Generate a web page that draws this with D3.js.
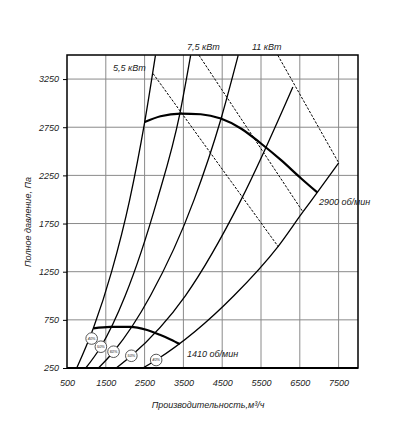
<!DOCTYPE html>
<html>
<head>
<meta charset="utf-8">
<style>
  body { margin: 0; background: #fff; }
  svg text { font-family: "Liberation Sans", Arial, sans-serif; font-style: italic; fill: #222; }
  .grid line { stroke: #8a8a8a; stroke-width: 1; }
  .axis path { display: none; }
  .axis line { stroke: #000; }
</style>
</head>
<body>
<svg id="chart" width="407" height="435"></svg>
<script src="https://cdnjs.cloudflare.com/ajax/libs/d3/7.8.5/d3.min.js"></script>
<script>
// tick values
var xTicks = [500, 1500, 2500, 3500, 4500, 5500, 6500, 7500];
var yTicks = [250, 750, 1250, 1750, 2250, 2750, 3250];

// system curves, [flow m3/h, pressure Pa]
var sys1 = [[751, 250], [1181, 665], [1650, 1250], [2114, 1993], [2503, 2805], [2780, 3497]];
var sys2 = [[984, 250], [1373, 471], [2000, 1000], [2824, 1993], [3409, 2892], [3687, 3497]];
var sys3 = [[1311, 250], [1699, 419], [2650, 1000], [3772, 1993], [4464, 2830], [4912, 3497]];
var sys4 = [[1769, 250], [2158, 377], [3550, 1000], [4982, 1993], [6321, 3168]];
var sys5 = [[2456, 250], [2798, 333], [4800, 1000], [5933, 1508], [6580, 1871], [6951, 2073], [7503, 2380]];

// fan curves
var rpm2900 = [[2503, 2805], [2909, 2864], [3427, 2892], [3946, 2885], [4464, 2840],
               [4982, 2737], [5500, 2581], [6018, 2408], [6536, 2218], [6951, 2073]];
var rpm1410 = [[1181, 662], [1614, 678], [2132, 678], [2565, 644], [2909, 592], [3168, 547], [3409, 499]];

// motor power limits (dashed)
var pow55 = [[2718, 3307], [5948, 1508]];
var pow75 = [[3902, 3497], [6580, 1871]];
var pow11 = [[5933, 3497], [7503, 2380]];

// efficiency marks
var effQ = [1135, 1373, 1699, 2158, 2798];
var effP = [556, 471, 419, 377, 333];
var effLabels = ["40%", "50%", "60%", "50%", "40%"];

var svg = d3.select("#chart");
var x = d3.scaleLinear().domain([500, 8000]).range([67, 358]);
var y = d3.scaleLinear().domain([250, 3500]).range([368, 55]);

// grid
var grid = svg.append("g").attr("class", "grid");
grid.selectAll(".vx").data(xTicks.slice(1)).enter().append("line")
  .attr("x1", d => x(d)).attr("x2", d => x(d)).attr("y1", y(3500)).attr("y2", y(250));
grid.selectAll(".hy").data(yTicks.slice(1)).enter().append("line")
  .attr("y1", d => y(d)).attr("y2", d => y(d)).attr("x1", x(500)).attr("x2", x(8000));

// axes
svg.append("g").attr("class", "axis")
  .attr("transform", "translate(" + x(500) + ",0)")
  .call(d3.axisLeft(y).tickValues(yTicks).tickFormat(d3.format("d"))
    .tickSizeInner(4).tickSizeOuter(0).tickPadding(4))
  .selectAll("text").style("font-size", "9px").style("font-family", null);
svg.append("g").attr("class", "axis")
  .attr("transform", "translate(0," + y(250) + ")")
  .call(d3.axisBottom(x).tickValues(xTicks).tickFormat(d3.format("d")).tickSize(0).tickPadding(12))
  .selectAll("text").style("font-size", "9px").style("font-family", null);

// clip to plot
svg.append("clipPath").attr("id", "plot").append("rect")
  .attr("x", x(500)).attr("y", y(3500)).attr("width", x(8000) - x(500)).attr("height", y(250) - y(3500));

var plot = svg.append("g").attr("clip-path", "url(#plot)");
var line = d3.line().x(d => x(d[0])).y(d => y(d[1]));
var smooth = d3.line().x(d => x(d[0])).y(d => y(d[1])).curve(d3.curveMonotoneX);

[pow55, pow75, pow11].forEach(function(s) {
  plot.append("path").attr("d", line(s)).attr("fill", "none")
    .attr("stroke", "#000").attr("stroke-width", 1).attr("stroke-dasharray", "2.5,1.5");
});
[sys1, sys2, sys3, sys4, sys5].forEach(function(s) {
  plot.append("path").attr("d", smooth(s)).attr("fill", "none")
    .attr("stroke", "#000").attr("stroke-width", 1.3);
});
[rpm2900, rpm1410].forEach(function(s) {
  plot.append("path").attr("d", smooth(s)).attr("fill", "none")
    .attr("stroke", "#000").attr("stroke-width", 2.2);
});

// efficiency circles
var eff = svg.append("g").selectAll("g").data(effQ).enter().append("g")
  .attr("transform", (d, i) => "translate(" + x(d) + "," + y(effP[i]) + ")");
eff.append("circle").attr("r", 5.8).attr("fill", "#fff").attr("stroke", "#444").attr("stroke-width", 0.9);
eff.append("text").attr("text-anchor", "middle").attr("dy", "0.35em")
  .style("font-size", "3.8px").text((d, i) => effLabels[i]);

// frame
svg.append("rect").attr("x", x(500)).attr("y", y(3500))
  .attr("width", x(8000) - x(500)).attr("height", y(250) - y(3500))
  .attr("fill", "none").attr("stroke", "#000").attr("stroke-width", 1.5);
svg.append("line").attr("x1", x(500)).attr("x2", x(8000)).attr("y1", y(250)).attr("y2", y(250))
  .attr("stroke", "#000").attr("stroke-width", 2.2);

// labels
var lab = svg.append("g").style("font-size", "9px");
lab.append("text").attr("x", 113).attr("y", 71).text("5,5 кВт");
lab.append("text").attr("x", 187).attr("y", 50).text("7,5 кВт");
lab.append("text").attr("x", 252).attr("y", 50).text("11 кВт");
lab.append("text").attr("x", 319).attr("y", 205).text("2900 об/мин");
lab.append("text").attr("x", 187).attr("y", 357).text("1410 об/мин");

svg.append("text").attr("x", 208).attr("y", 408).attr("text-anchor", "middle")
  .style("font-size", "9px").text("Производительность,м³/ч");
svg.append("text").attr("transform", "translate(31,222) rotate(-90)").attr("text-anchor", "middle")
  .style("font-size", "9px").text("Полное давление, Па");
</script>
</body>
</html>
